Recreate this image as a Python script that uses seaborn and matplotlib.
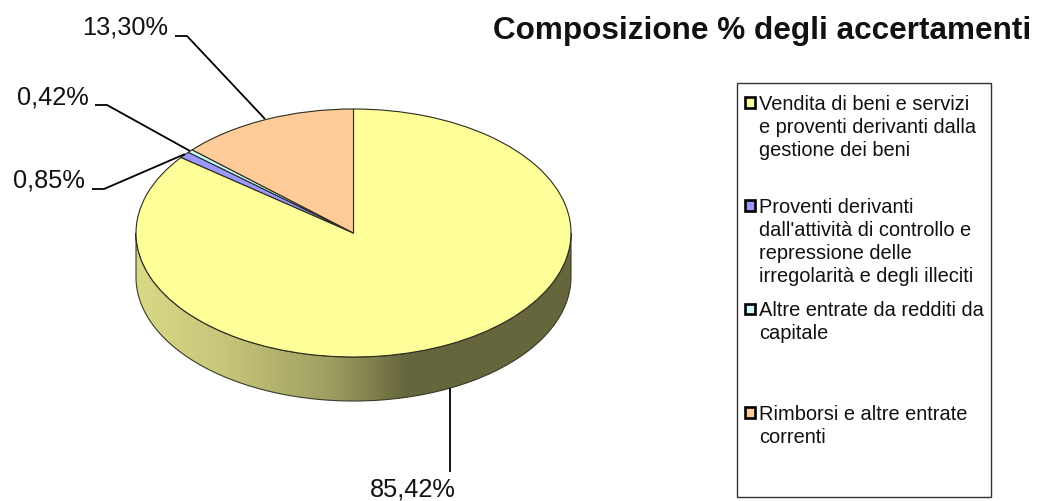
import numpy as np
import matplotlib
matplotlib.use('Agg')
import matplotlib.pyplot as plt
from matplotlib.colors import LinearSegmentedColormap
from matplotlib.patches import PathPatch, Rectangle
from matplotlib.path import Path
import seaborn as sns

sns.set_theme(style='white')
plt.rcParams['font.family'] = ['Liberation Sans', 'DejaVu Sans']

# dati
categories = ['Vendita di beni e servizi\ne proventi derivanti dalla\ngestione dei beni',
              "Proventi derivanti\ndall'attività di controllo e\nrepressione delle\nirregolarità e degli illeciti",
              'Altre entrate da redditi da\ncapitale',
              'Rimborsi e altre entrate\ncorrenti']
values = [85.42, 0.85, 0.42, 13.30]
value_labels = ['85,42%', '0,85%', '0,42%', '13,30%']
colors = sns.color_palette(['#FFFF99', '#9999FF', '#CCFFFF', '#FFCC99'])
title = 'Composizione % degli accertamenti'

W, H = 1040, 502
cx, cy, rx, ry, depth = 353.5, 234, 217.5, 124, 44

fig = plt.figure(figsize=(W / 100, H / 100), dpi=100, facecolor='white')

# torta: un asse a tutta figura, scala diversa in x e y per fare l'ellisse
ax = fig.add_axes([0, 0, 1, 1])
ax.pie(values, colors=colors, startangle=90, counterclock=False,
       wedgeprops={'edgecolor': '#2b2b20', 'linewidth': 0.8, 'zorder': 5})
ax.set_aspect('auto')
ax.axis('off')

# fianco della torta con sfumatura
t = np.linspace(np.pi, 2 * np.pi, 200)
d = depth / ry
band = np.vstack([np.c_[np.cos(t), np.sin(t)],
                  np.c_[np.cos(t[::-1]), np.sin(t[::-1]) - d]])
band_path = Path(np.vstack([band, band[0]]), closed=True)
side = LinearSegmentedColormap.from_list(
    'side', [(0, '#D9D986'), (0.2, '#C6C67A'), (0.45, '#9E9E62'), (0.62, '#66663E'), (1, '#66663C')])
img = ax.imshow(np.linspace(0, 1, 436).reshape(1, -1), cmap=side, aspect='auto',
                extent=(-1, 1, -1 - d, 0), zorder=1)
img.set_clip_path(PathPatch(band_path, transform=ax.transData))
ax.set_xlim(-cx / rx, (W - cx) / rx)
ax.set_ylim((cy - H) / ry, cy / ry)
ax.add_patch(PathPatch(band_path, facecolor='none', edgecolor='#3a3a28', linewidth=0.8, zorder=2))

# testi, linee guida e legenda in pixel
ov = fig.add_axes([0, 0, 1, 1])
ov.set_xlim(0, W)
ov.set_ylim(H, 0)
ov.axis('off')
ov.patch.set_alpha(0)

leaders = [([449.5, 449.5], [389, 473]),
           ([92, 104, 185], [190, 190, 155]),
           ([95, 107, 190], [106, 106, 152]),
           ([175, 187, 265], [37, 37, 120])]
label_pos = [(413, 490), (49, 181), (53, 98), (125, 28)]
for (lx, ly), (tx, ty), lab in zip(leaders, label_pos, value_labels):
    ov.plot(lx, ly, color='black', linewidth=1.3, solid_capstyle='butt')
    ov.text(tx, ty, lab, fontsize=18.3, color='#111111', ha='center', va='center')

ov.text(762.5, 31, title, fontsize=22.7, fontweight='bold', color='#111111',
        ha='center', va='center')

ov.add_patch(Rectangle((737, 84), 254, 414, facecolor='white', edgecolor='#333333', linewidth=1))
for i, (cat, col) in enumerate(zip(categories, colors)):
    y0 = 103 + i * 103.4
    ov.add_patch(Rectangle((744.5, y0 - 5), 10.5, 10.5, facecolor=col, edgecolor='black', linewidth=1.9))
    ov.text(759, y0 - 8.5, cat, fontsize=14.4, color='#111111', ha='left', va='top', linespacing=1.28)

fig.savefig('out.png', dpi=100, facecolor='white')
